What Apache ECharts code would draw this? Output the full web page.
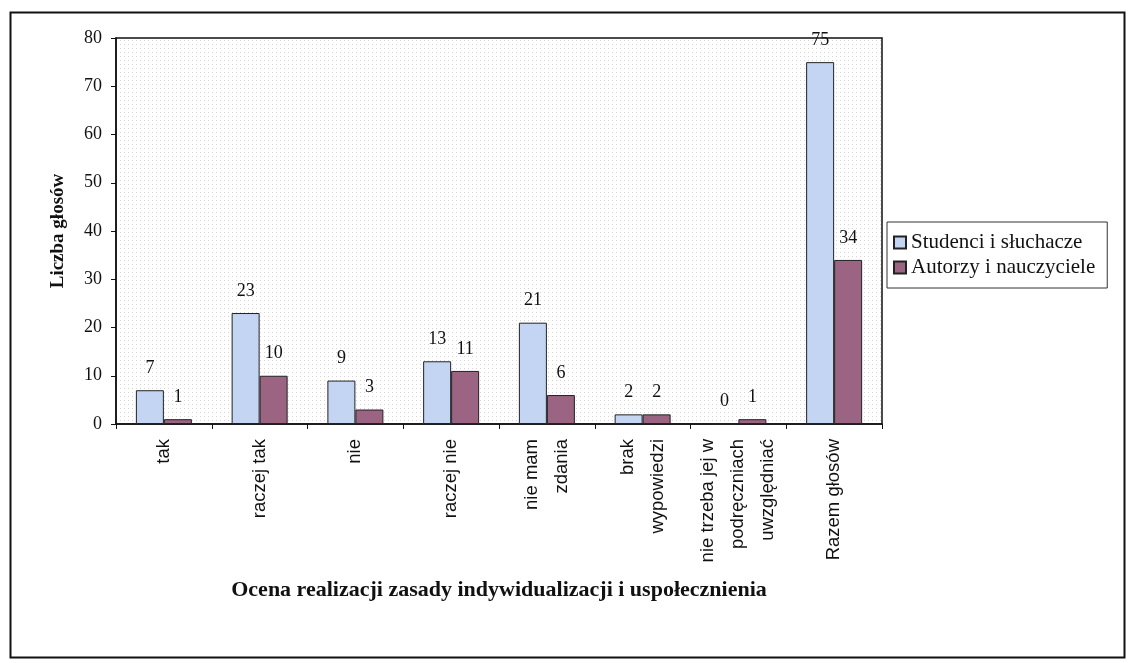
<!DOCTYPE html>
<html>
<head>
<meta charset="utf-8">
<script src="https://cdn.jsdelivr.net/npm/echarts@6/dist/echarts.min.js"></script>
<style>
html,body{margin:0;padding:0;background:#fff;}
#c{width:1131px;height:663px;}
</style>
</head>
<body>
<div id="c"></div>
<script>
var categories = ['tak', 'raczej tak', 'nie', 'raczej nie', 'nie mam\nzdania', 'brak\nwypowiedzi', 'nie trzeba jej w\npodręczniach\nuwzględniać', 'Razem głosów'];
var seriesNames = ['Studenci i słuchacze', 'Autorzy i nauczyciele'];
var studenci = [7, 23, 9, 13, 21, 2, 0, 75];
var autorzy = [1, 10, 3, 11, 6, 2, 1, 34];
var yTicks = {min: 0, max: 80, interval: 10};

var pat = document.createElement('canvas');
pat.width = 4; pat.height = 4;
var pc = pat.getContext('2d');
pc.fillStyle = '#ffffff'; pc.fillRect(0,0,4,4);
pc.fillStyle = '#d4d4d4'; pc.fillRect(0,0,1,1);

var serif = '"Liberation Serif", "Times New Roman", serif';
var sans = '"Liberation Sans Narrow", "Liberation Sans", Arial, sans-serif';

var chart = echarts.init(document.getElementById('c'));
chart.setOption({
  animation: false,
  backgroundColor: '#fff',
  grid: {left: 116, top: 38, right: 249, bottom: 239, show: true, borderColor: '#111', borderWidth: 1.5,
         backgroundColor: {image: pat, repeat: 'repeat'}},
  legend: {
    orient: 'vertical', left: 887, top: 222,
    data: seriesNames,
    icon: 'rect', itemWidth: 12, itemHeight: 12, itemGap: 4,
    borderColor: '#333', borderWidth: 1, padding: [10, 12, 10, 6],
    textStyle: {fontFamily: serif, fontSize: 21, color: '#111'}
  },
  xAxis: {
    type: 'category', data: categories,
    name: 'Ocena realizacji zasady indywidualizacji i uspołecznienia',
    nameLocation: 'middle', nameGap: 155,
    nameTextStyle: {fontFamily: serif, fontSize: 22, fontWeight: 'bold', color: '#111'},
    axisLine: {lineStyle: {color: '#111', width: 1.5}},
    axisTick: {show: true, alignWithLabel: false, length: 5, lineStyle: {color: '#111'}},
    axisLabel: {rotate: 90, interval: 0, margin: 15, fontFamily: sans, fontSize: 18.5, lineHeight: 30, color: '#111'}
  },
  yAxis: {
    type: 'value', min: yTicks.min, max: yTicks.max, interval: yTicks.interval,
    name: 'Liczba głosów', nameLocation: 'middle', nameGap: 48,
    nameTextStyle: {fontFamily: serif, fontSize: 19, fontWeight: 'bold', color: '#111'},
    axisLine: {show: true, lineStyle: {color: '#111', width: 1.5}},
    axisTick: {show: true, length: 5, lineStyle: {color: '#111'}},
    splitLine: {show: false},
    axisLabel: {fontFamily: serif, fontSize: 18, color: '#111', margin: 14}
  },
  series: [
    {name: seriesNames[0], type: 'bar', data: studenci, barWidth: 28, barGap: '0%',
     itemStyle: {color: '#c3d5f2', borderColor: '#222', borderWidth: 1},
     label: {show: true, position: 'top', distance: 13, fontFamily: serif, fontSize: 18, color: '#111'}},
    {name: seriesNames[1], type: 'bar', data: autorzy, barWidth: 28, barGap: '0%',
     itemStyle: {color: '#9a6482', borderColor: '#222', borderWidth: 1},
     label: {show: true, position: 'top', distance: 13, fontFamily: serif, fontSize: 18, color: '#111'}}
  ],
  graphic: [
    {type: 'rect', left: 8, top: 10, shape: {width: 1114, height: 645},
     style: {fill: 'none', stroke: '#111', lineWidth: 2}, silent: true}
  ]
});
</script>
</body>
</html>
